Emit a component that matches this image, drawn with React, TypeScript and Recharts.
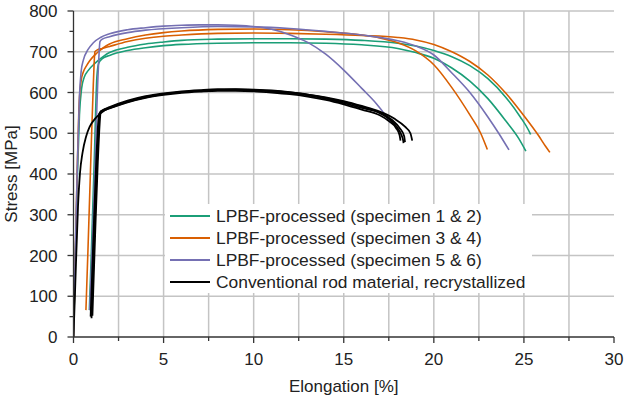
import React from 'react';
import { LineChart, Line, XAxis, YAxis } from 'recharts';

// stress-strain curves, [elongation %, stress MPa]
const green1 = [[0,0],[0.1,190],[0.22,400],[0.33,545],[0.45,610],[0.6,638],[0.8,653],[1.2,672],[1.7,690],[2,698],[3,711],[4,719],[5,724],[6,728],[8,731],[10,732],[12,732],[14,731],[16,728],[18,721],[19,714],[20,703],[21,688],[22,666],[23,634],[24,588],[24.8,540],[25.25,508],[25.37,497]];
const green2 = [[0.88,66],[1.0,220],[1.15,430],[1.3,640],[1.4,672],[1.6,683],[2,691],[3,703],[4,710],[5,715],[6,718],[8,721],[10,722],[12,722],[14,721],[16,717],[18,708],[19,698],[20,684],[21,660],[22,628],[23,585],[24,530],[24.7,488],[25.11,456]];
const orange1 = [[0,0],[0.1,200],[0.2,400],[0.3,560],[0.42,628],[0.55,651],[0.7,664],[0.9,678],[1.3,697],[1.7,711],[2,719],[3,732],[4,741],[5,747],[6,751],[8,755],[10,756],[12,754],[14,749],[16,741],[17,734],[18,722],[19,702],[20,668],[21,612],[22,545],[22.6,500],[22.9,468],[22.97,460]];
const orange2 = [[0.69,66],[0.8,210],[0.95,420],[1.1,620],[1.19,700],[1.3,704],[1.6,708],[2,713],[3,725],[4,733],[5,738],[6,741],[8,745],[10,746],[12,745],[14,743],[16,740],[18,735],[19,729],[20,718],[21,700],[22,676],[23,643],[24,598],[25,543],[25.8,495],[26.2,468],[26.44,453]];
const purple1 = [[0,0],[0.1,210],[0.22,430],[0.33,590],[0.42,650],[0.55,680],[0.8,705],[1.1,722],[1.5,735],[2,744],[3,754],[4,759],[5,763],[6,765],[7,766],[8,766],[9,765],[10,762],[11,755],[12,742],[13,723],[14,694],[15,655],[16,610],[16.8,573],[17.3,545],[17.6,525]];
const purple2 = [[0.9,66],[1.05,230],[1.2,430],[1.38,660],[1.47,725],[1.6,731],[2,737],[3,747],[4,753],[6,759],[8,762],[10,761],[12,757],[14,750],[16,741],[18,727],[19,714],[20,692],[21,648],[22,600],[23,540],[23.6,500],[24.17,459]];
const black1 = [[0,0],[0.1,130],[0.25,320],[0.36,402],[0.5,452],[0.7,492],[0.9,516],[1.2,536],[1.6,552],[2,562],[3,578],[4,589],[5,596],[6,601],[7,604],[8,606],[9,607],[10,606],[11,603],[12,599],[13,593],[14,585],[15,574],[16,562],[17,550],[17.6,532],[18.0,512],[18.2,496],[18.3,482],[18.32,476]];
const black2 = [[0.95,50],[1.1,240],[1.25,420],[1.42,548],[1.6,554],[2,561],[3,576],[4,587],[5,594],[6,599],[7,602],[8,604],[9,604],[10,603],[11,600],[12,596],[13,590],[14,582],[15,571],[16,558],[17,544],[17.5,530],[17.9,513],[18.1,495],[18.15,482]];
const black3 = [[1.0,46],[1.15,240],[1.3,420],[1.47,551],[1.6,556],[2,564],[3,580],[4,591],[5,598],[6,603],[7,606],[8,608],[9,608],[10,607],[11,605],[12,601],[13,595],[14,587],[15,577],[16,565],[17,550],[17.7,532],[18.1,513],[18.35,493],[18.4,478]];
const black4 = [[1.05,52],[1.2,250],[1.35,430],[1.52,553],[1.7,558],[2,562],[3,577],[4,588],[5,596],[6,601],[7,604],[8,606],[9,607],[10,606],[11,604],[12,600],[13,595],[14,588],[15,579],[16,567],[17,553],[17.8,536],[18.4,516],[18.7,500],[18.8,482]];

const xTicks = [0, 2.5, 5, 7.5, 10, 12.5, 15, 17.5, 20, 22.5, 25, 27.5, 30];
const yTicks = [0, 50, 100, 150, 200, 250, 300, 350, 400, 450, 500, 550, 600, 650, 700, 750, 800];
const yGrid = [100, 200, 300, 400, 500, 600, 700, 800];
const xGrid = [2.5, 5, 7.5, 10, 12.5, 15, 17.5, 20, 22.5, 25, 27.5];

const legendItems = [
  { label: 'LPBF-processed (specimen 1 & 2)', color: '#1b9e77' },
  { label: 'LPBF-processed (specimen 3 & 4)', color: '#d95f02' },
  { label: 'LPBF-processed (specimen 5 & 6)', color: '#7570b3' },
  { label: 'Conventional rod material, recrystallized', color: '#000000' },
];

const series = [
  { data: green1, color: '#1b9e77', w: 1.6 },
  { data: green2, color: '#1b9e77', w: 1.6 },
  { data: orange1, color: '#d95f02', w: 1.6 },
  { data: orange2, color: '#d95f02', w: 1.6 },
  { data: purple1, color: '#7570b3', w: 1.6 },
  { data: purple2, color: '#7570b3', w: 1.6 },
  { data: black1, color: '#000000', w: 1.8 },
  { data: black2, color: '#000000', w: 1.8 },
  { data: black3, color: '#000000', w: 1.8 },
  { data: black4, color: '#000000', w: 1.8 },
];

const W = 626;
const H = 401;
const M = { top: 11, right: 12 };
const Y_AXIS_W = 73.5;
const X_AXIS_H = 64;
const X_DOMAIN = [0, 30];
const Y_DOMAIN = [0, 800];

// plot box, same numbers the chart gets through margin + axis sizes
const plotL = Y_AXIS_W;
const plotR = W - M.right;
const plotT = M.top;
const plotB = H - X_AXIS_H;
const gx = (v: number) => plotL + ((v - X_DOMAIN[0]) / (X_DOMAIN[1] - X_DOMAIN[0])) * (plotR - plotL);
const gy = (v: number) => plotB - ((v - Y_DOMAIN[0]) / (Y_DOMAIN[1] - Y_DOMAIN[0])) * (plotB - plotT);

const font = '"Liberation Sans", Arial, sans-serif';
const axisColor = '#333';
const gridColor = '#c4c4c4';

const XTick = (props: any) => {
  const { x, y, payload } = props;
  const major = payload.value % 5 === 0;
  return (
    <g>
      <line x1={x} x2={x} y1={y} y2={y + (major ? 6 : 4)} stroke={axisColor} strokeWidth={1.3} />
      {major && (
        <text x={x} y={y + 28} textAnchor="middle" fontSize={17} fill="#222" fontFamily={font}>
          {payload.value}
        </text>
      )}
    </g>
  );
};

const YTick = (props: any) => {
  const { x, y, payload } = props;
  const major = payload.value % 100 === 0;
  return (
    <g>
      <line x1={x - (major ? 6 : 4)} x2={x} y1={y} y2={y} stroke={axisColor} strokeWidth={1.3} />
      {major && (
        <text x={x - 16} y={y + 6} textAnchor="end" fontSize={17} fill="#222" fontFamily={font}>
          {payload.value}
        </text>
      )}
    </g>
  );
};

export default function App() {
  return (
    <div style={{ position: 'absolute', left: 0, top: 0, width: W, height: H, background: '#fff' }}>
      <svg width={W} height={H} style={{ position: 'absolute', left: 0, top: 0 }}>
        {xGrid.map((v) => (
          <line key={`vx${v}`} x1={gx(v)} x2={gx(v)} y1={plotT} y2={plotB} stroke={gridColor} strokeWidth={1.5} />
        ))}
        {yGrid.map((v) => (
          <line key={`hy${v}`} x1={plotL} x2={plotR} y1={gy(v)} y2={gy(v)} stroke={gridColor} strokeWidth={1.5} />
        ))}
      </svg>
      <div style={{ position: 'absolute', left: 0, top: 0 }}>
        <LineChart width={W} height={H} margin={{ top: M.top, right: M.right, bottom: 0, left: 0 }}>
          <XAxis
            type="number"
            dataKey="x"
            domain={X_DOMAIN}
            ticks={xTicks}
            interval={0}
            height={X_AXIS_H}
            tickSize={0}
            tickMargin={0}
            tickLine={false}
            tick={<XTick />}
            stroke={axisColor}
            strokeWidth={1.3}
            allowDataOverflow
            label={{ value: 'Elongation [%]', position: 'insideBottom', offset: 9, fontSize: 17, fill: '#222', fontFamily: font }}
          />
          <YAxis
            type="number"
            dataKey="y"
            domain={Y_DOMAIN}
            ticks={yTicks}
            interval={0}
            width={Y_AXIS_W}
            tickSize={0}
            tickMargin={0}
            tickLine={false}
            tick={<YTick />}
            stroke={axisColor}
            strokeWidth={1.3}
            allowDataOverflow
            label={{ value: 'Stress [MPa]', angle: -90, position: 'insideLeft', offset: 11, fontSize: 17, fill: '#222', fontFamily: font, style: { textAnchor: 'middle' } }}
          />
          {series.map((s, i) => (
            <Line
              key={i}
              data={s.data.map(([x, y]) => ({ x, y }))}
              dataKey="y"
              type="monotone"
              stroke={s.color}
              strokeWidth={s.w}
              dot={false}
              activeDot={false}
              isAnimationActive={false}
            />
          ))}
        </LineChart>
      </div>
      <div
        style={{
          position: 'absolute',
          left: 165,
          top: 204,
          width: 367,
          height: 89,
          background: '#fff',
          fontFamily: font,
          fontSize: 17.4,
          color: '#222',
        }}
      >
        {legendItems.map((item) => (
          <div key={item.label} style={{ display: 'flex', alignItems: 'center', height: 22, marginTop: item === legendItems[0] ? 1 : 0 }}>
            <div style={{ width: 40, height: 2, background: item.color, marginLeft: 5, marginRight: 6 }} />
            <span style={{ whiteSpace: 'nowrap' }}>{item.label}</span>
          </div>
        ))}
      </div>
    </div>
  );
}
